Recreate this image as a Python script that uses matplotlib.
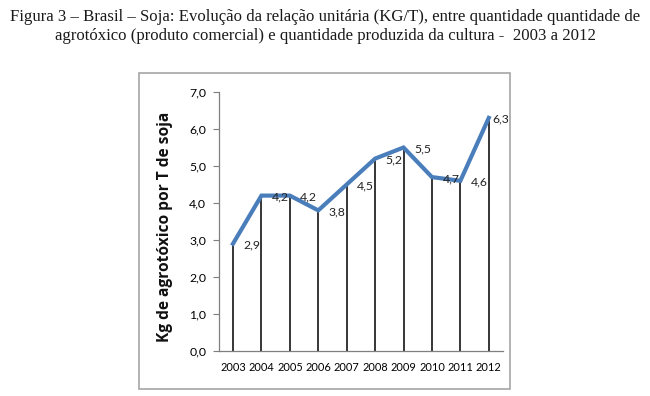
import matplotlib
matplotlib.use("Agg")
import matplotlib.pyplot as plt
from matplotlib.patches import Rectangle

years = ["2003", "2004", "2005", "2006", "2007", "2008", "2009", "2010", "2011", "2012"]
values = [2.9, 4.2, 4.2, 3.8, 4.5, 5.2, 5.5, 4.7, 4.6, 6.3]
value_labels = ["2,9", "4,2", "4,2", "3,8", "4,5", "5,2", "5,5", "4,7", "4,6", "6,3"]
yticks = [0, 1, 2, 3, 4, 5, 6, 7]
ytick_labels = ["0,0", "1,0", "2,0", "3,0", "4,0", "5,0", "6,0", "7,0"]
title = ("Figura 3 – Brasil – Soja: Evolução da relação unitária (KG/T), entre quantidade quantidade de\n"
         "agrotóxico (produto comercial) e quantidade produzida da cultura -  2003 a 2012")
ylabel = "Kg de agrotóxico por T de soja"

DPI = 100
fig = plt.figure(figsize=(6.5, 3.96), dpi=DPI)
fig.patch.set_facecolor("white")

# chart frame
fig.patches.append(Rectangle((139 / 650, 1 - 389 / 396), 371 / 650, 316 / 396,
                             transform=fig.transFigure, fill=False,
                             edgecolor="#a6a6a6", linewidth=1.2))

fig.text(0.5, 0.978, title, ha="center", va="top", family="Liberation Serif",
         fontsize=12.1, linespacing=1.3, color="#1a1a1a")

ax = fig.add_axes([218.8 / 650, 1 - 351 / 396, (503 - 218.8) / 650, (351 - 92) / 396])
x = list(range(len(years)))
ax.vlines(x, 0, values, color="black", linewidth=1.1, zorder=2)
ax.plot(x, values, color="#4a7ebb", linewidth=3, solid_joinstyle="miter", zorder=3)

for xi, v, lab in zip(x, values, value_labels):
    ax.annotate(lab, (xi, v), xytext=(7.5 if xi < 9 else 2.5, -1), textcoords="offset points",
                ha="left", va="center", fontsize=8.8, family="Lato", color="#222222", zorder=4)

ax.set_xlim(-0.5, 9.5)
ax.set_ylim(0, 7)
ax.set_yticks(yticks)
ax.set_yticklabels(ytick_labels, family="Lato", fontsize=8.8)
ax.set_xticks(x)
ax.set_xticklabels(years, family="Lato", fontsize=7.9)
ax.tick_params(axis="x", length=0, pad=8)
ax.tick_params(axis="y", length=4, width=0.8, color="#7f7f7f", pad=5)
for s in ["top", "right"]:
    ax.spines[s].set_visible(False)
for s in ["left", "bottom"]:
    ax.spines[s].set_color("#7f7f7f")
    ax.spines[s].set_linewidth(0.9)

fig.text(165 / 650, 1 - 227 / 396, ylabel, rotation=90, ha="center", va="center",
         family="Open Sans", fontweight="bold", fontsize=11.2, color="#111111")

fig.savefig("out.png", dpi=DPI)
